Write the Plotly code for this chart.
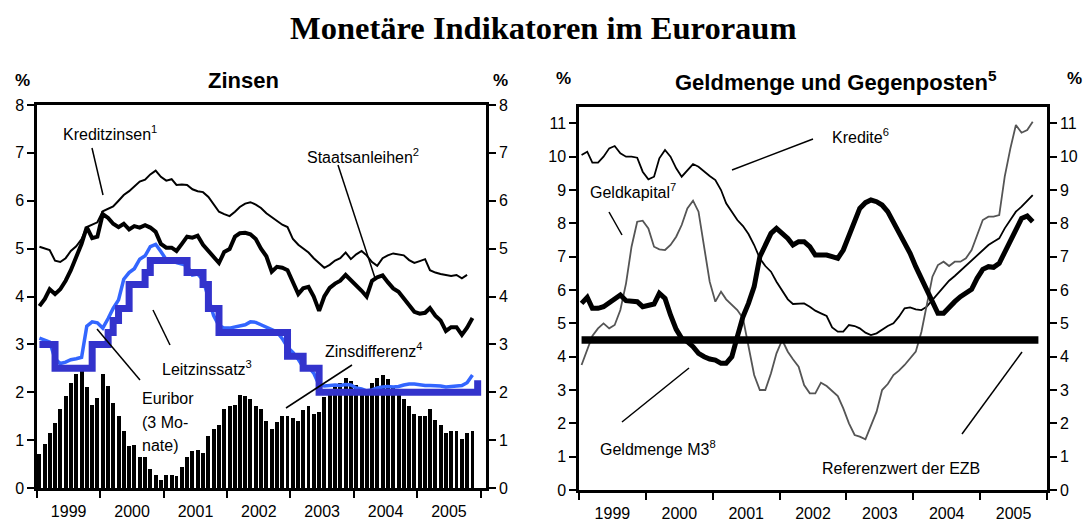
import pandas as pd
import plotly.graph_objects as go

W, H = 1085, 525

# ---------------- Data (monthly, from January 1999) ----------------
# Left panel "Zinsen" (%)
kreditzinsen = [5.04, 5.00, 4.97, 4.75, 4.72, 4.80, 4.95, 5.05, 5.20, 5.45, 5.50, 5.55,
                5.78, 5.84, 5.88, 6.00, 6.12, 6.20, 6.30, 6.40, 6.44, 6.55, 6.63, 6.50,
                6.42, 6.45, 6.33, 6.34, 6.33, 6.24, 6.20, 6.18, 6.08, 5.92, 5.77, 5.72,
                5.68, 5.77, 5.87, 5.94, 5.97, 5.92, 5.85, 5.74, 5.66, 5.58, 5.50, 5.45,
                5.20, 5.08, 5.00, 4.92, 4.80, 4.70, 4.60, 4.66, 4.75, 4.80, 4.92, 4.78,
                4.88, 4.95, 4.86, 4.72, 4.64, 4.80, 4.86, 4.90, 4.88, 4.86, 4.76, 4.70,
                4.74, 4.78, 4.55, 4.50, 4.47, 4.45, 4.43, 4.45, 4.38, 4.45]

staatsanleihen = [3.80, 3.95, 4.15, 4.05, 4.15, 4.33, 4.55, 4.80, 5.10, 5.45, 5.22, 5.25,
                  5.72, 5.64, 5.52, 5.45, 5.52, 5.40, 5.47, 5.44, 5.49, 5.44, 5.35, 5.10,
                  5.02, 5.02, 4.95, 5.10, 5.25, 5.23, 5.27, 5.08, 4.95, 4.82, 4.70, 4.93,
                  4.99, 5.25, 5.32, 5.33, 5.30, 5.20, 5.00, 4.84, 4.52, 4.62, 4.60, 4.55,
                  4.30, 4.05, 4.17, 4.20, 4.00, 3.70, 4.00, 4.18, 4.27, 4.33, 4.45, 4.35,
                  4.25, 4.12, 4.00, 4.33, 4.40, 4.44, 4.30, 4.17, 4.10, 3.95, 3.80, 3.68,
                  3.64, 3.66, 3.76, 3.60, 3.50, 3.28, 3.36, 3.36, 3.20, 3.35, 3.55]

euribor = [3.13, 3.09, 3.05, 2.70, 2.60, 2.63, 2.68, 2.70, 2.73, 3.38, 3.47, 3.45,
           3.34, 3.54, 3.75, 3.93, 4.36, 4.50, 4.58, 4.78, 4.85, 5.04, 5.09, 4.94,
           4.77, 4.76, 4.71, 4.68, 4.64, 4.45, 4.47, 4.35, 3.98, 3.60, 3.39, 3.34,
           3.34, 3.36, 3.39, 3.41, 3.47, 3.46, 3.41, 3.35, 3.31, 3.26, 3.12, 2.94,
           2.83, 2.69, 2.53, 2.53, 2.40, 2.15, 2.13, 2.14, 2.15, 2.14, 2.16, 2.15,
           2.09, 2.07, 2.03, 2.05, 2.09, 2.11, 2.12, 2.11, 2.12, 2.15, 2.17, 2.17,
           2.15, 2.14, 2.14, 2.14, 2.13, 2.11, 2.12, 2.13, 2.14, 2.20, 2.36]

leitzinssatz = [3.00, 3.00, 3.00, 2.50, 2.50, 2.50, 2.50, 2.50, 2.50, 2.50, 3.00, 3.00,
                3.00, 3.25, 3.50, 3.75, 3.75, 4.25, 4.25, 4.25, 4.50, 4.75, 4.75, 4.75,
                4.75, 4.75, 4.75, 4.75, 4.50, 4.50, 4.50, 4.25, 3.75, 3.75, 3.25, 3.25,
                3.25, 3.25, 3.25, 3.25, 3.25, 3.25, 3.25, 3.25, 3.25, 3.25, 3.25, 2.75,
                2.75, 2.75, 2.50, 2.50, 2.50, 2.00, 2.00, 2.00, 2.00, 2.00, 2.00, 2.00,
                2.00, 2.00, 2.00, 2.00, 2.00, 2.00, 2.00, 2.00, 2.00, 2.00, 2.00, 2.00,
                2.00, 2.00, 2.00, 2.00, 2.00, 2.00, 2.00, 2.00, 2.00, 2.00, 2.00, 2.25]

zinsdifferenz = [0.72, 0.91, 1.15, 1.36, 1.64, 1.92, 2.20, 2.38, 2.44, 2.12, 1.73, 1.88,
                 2.39, 2.14, 1.77, 1.51, 1.20, 0.87, 0.89, 0.64, 0.64, 0.40, 0.28, 0.16,
                 0.27, 0.28, 0.25, 0.43, 0.64, 0.78, 0.80, 0.73, 1.08, 1.24, 1.31, 1.64,
                 1.71, 1.73, 1.95, 1.92, 1.86, 1.72, 1.64, 1.40, 1.24, 1.38, 1.50, 1.50,
                 1.47, 1.40, 1.62, 1.71, 1.54, 1.59, 1.90, 2.05, 2.12, 2.20, 2.30, 2.23,
                 2.16, 2.08, 2.00, 2.20, 2.30, 2.35, 2.27, 2.10, 2.00, 1.85, 1.72, 1.54,
                 1.50, 1.50, 1.64, 1.43, 1.31, 1.15, 1.20, 1.20, 1.03, 1.14, 1.19]

# Right panel "Geldmenge und Gegenposten" (% change yoy)
kredite = [10.05, 10.15, 9.82, 9.82, 10.00, 10.25, 10.32, 10.10, 10.00, 10.00, 9.97, 9.55,
           9.32, 9.40, 9.95, 10.20, 10.00, 9.65, 9.40, 9.58, 9.78, 9.70, 9.55, 9.42,
           9.30, 9.00, 8.60, 8.35, 8.10, 7.92, 7.68, 7.35, 6.95, 6.72, 6.55, 6.25,
           6.00, 5.72, 5.58, 5.60, 5.60, 5.50, 5.38, 5.30, 5.22, 4.88, 4.75, 4.75,
           4.95, 4.92, 4.85, 4.72, 4.65, 4.70, 4.82, 4.92, 5.00, 5.20, 5.45, 5.48,
           5.42, 5.40, 5.50, 5.70, 5.92, 6.12, 6.28, 6.42, 6.58, 6.72, 6.88, 7.05,
           7.22, 7.35, 7.45, 7.55, 7.85, 8.10, 8.35, 8.50, 8.68, 8.85]

geldkapital = [3.75, 4.20, 4.62, 4.85, 5.00, 4.85, 4.95, 5.40, 6.20, 7.30, 8.05, 8.08,
               7.85, 7.30, 7.22, 7.20, 7.35, 7.60, 7.95, 8.45, 8.68, 8.35, 7.30, 6.25,
               5.65, 5.95, 5.72, 5.55, 5.40, 5.15, 4.30, 3.45, 3.00, 3.00, 3.50, 4.10,
               4.50, 4.15, 3.92, 3.70, 3.15, 2.90, 2.90, 3.22, 3.12, 2.98, 2.82, 2.45,
               2.00, 1.65, 1.60, 1.52, 1.95, 2.35, 3.00, 3.18, 3.45, 3.58, 3.75, 3.95,
               4.15, 4.75, 5.60, 6.40, 6.75, 6.85, 6.72, 6.85, 6.85, 6.95, 7.20, 7.65,
               8.10, 8.20, 8.20, 8.25, 9.40, 10.25, 10.95, 10.72, 10.80, 11.05]

geldmenge_m3 = [5.60, 5.78, 5.45, 5.45, 5.50, 5.62, 5.75, 5.85, 5.68, 5.66, 5.65, 5.50,
                5.55, 5.58, 5.90, 5.75, 5.25, 4.82, 4.55, 4.45, 4.30, 4.10, 4.00, 3.93,
                3.90, 3.80, 3.80, 4.00, 4.60, 5.20, 5.60, 6.10, 7.00, 7.35, 7.70, 7.85,
                7.72, 7.55, 7.35, 7.45, 7.45, 7.30, 7.05, 7.05, 7.05, 7.00, 6.95, 7.20,
                7.60, 8.05, 8.45, 8.62, 8.70, 8.65, 8.55, 8.35, 8.05, 7.75, 7.40, 7.10,
                6.70, 6.35, 5.95, 5.60, 5.30, 5.30, 5.50, 5.65, 5.80, 5.90, 6.02, 6.35,
                6.62, 6.70, 6.68, 6.80, 7.12, 7.48, 7.80, 8.15, 8.22, 8.05]

referenzwert = [4.5] * 83

# Month positions (middle of each month)
monate = pd.date_range("1999-01-01", periods=84, freq="MS") + pd.Timedelta(days=14)


def m(series):
    return monate[:len(series)]


BLACK = "black"
FONT = "Liberation Sans"

fig = go.Figure()

# ---- Left panel ----
fig.add_trace(go.Bar(x=m(zinsdifferenz), y=zinsdifferenz, marker=dict(color=BLACK, line=dict(width=0)),
                     width=1.95e9, xaxis="x", yaxis="y", showlegend=False))
fig.add_trace(go.Scatter(x=m(kreditzinsen), y=kreditzinsen, mode="lines",
                         line=dict(color=BLACK, width=2), xaxis="x", yaxis="y", showlegend=False))
fig.add_trace(go.Scatter(x=m(staatsanleihen), y=staatsanleihen, mode="lines",
                         line=dict(color=BLACK, width=4), xaxis="x", yaxis="y", showlegend=False))
fig.add_trace(go.Scatter(x=m(euribor), y=euribor, mode="lines",
                         line=dict(color="#3366ff", width=3.5), xaxis="x", yaxis="y", showlegend=False))
fig.add_trace(go.Scatter(x=m(leitzinssatz), y=leitzinssatz, mode="lines",
                         line=dict(color="#3333cc", width=7, shape="hv"), xaxis="x", yaxis="y3",
                         showlegend=False))

# ---- Right panel ----
fig.add_trace(go.Scatter(x=m(kredite), y=kredite, mode="lines",
                         line=dict(color=BLACK, width=1.8), xaxis="x2", yaxis="y2", showlegend=False))
fig.add_trace(go.Scatter(x=m(geldkapital), y=geldkapital, mode="lines",
                         line=dict(color="#555555", width=1.8), xaxis="x2", yaxis="y2", showlegend=False))
fig.add_trace(go.Scatter(x=m(referenzwert), y=referenzwert, mode="lines",
                         line=dict(color=BLACK, width=7.5), xaxis="x2", yaxis="y4", showlegend=False))
fig.add_trace(go.Scatter(x=m(geldmenge_m3), y=geldmenge_m3, mode="lines",
                         line=dict(color=BLACK, width=5), xaxis="x2", yaxis="y4", showlegend=False))


def X(px):
    return px / W


def Y(py):
    return 1 - py / H


tickfont = dict(family=FONT, size=16, color=BLACK)

xcommon = dict(type="date", dtick="M12", tick0="1999-01-01", tickformat="%Y",
               ticklabelmode="period", ticks="outside", ticklen=7, tickwidth=2,
               tickcolor=BLACK, showline=True, linewidth=2.5, linecolor=BLACK,
               mirror=True, showgrid=False, zeroline=False, tickfont=tickfont,
               automargin=False)
ycommon = dict(ticks="outside", ticklen=7, tickwidth=2, tickcolor=BLACK, showline=True,
               linewidth=2.5, linecolor=BLACK, showgrid=False, zeroline=False,
               tickfont=tickfont, automargin=False)

fig.update_layout(
    width=W, height=H,
    margin=dict(l=0, r=0, t=0, b=0),
    paper_bgcolor="white", plot_bgcolor="white",
    bargap=0,
    xaxis=dict(domain=[X(37), X(486)], range=["1999-01-01", "2006-02-01"], anchor="y", **xcommon),
    yaxis=dict(domain=[Y(488), Y(105)], range=[0, 8], dtick=1, anchor="x", side="left", **ycommon),
    yaxis3=dict(range=[0, 8], dtick=1, anchor="x", overlaying="y", side="right", **ycommon),
    xaxis2=dict(domain=[X(579), X(1047)], range=["1999-01-01", "2006-01-01"], anchor="y2", **xcommon),
    yaxis2=dict(domain=[Y(490), Y(106.7)], range=[0, 11.5], tickvals=list(range(12)), anchor="x2",
                side="left", **ycommon),
    yaxis4=dict(range=[0, 11.5], tickvals=list(range(12)), anchor="x2", overlaying="y2", side="right",
                **ycommon),
)

annotations = []


def text(px, py, s, size=16, bold=False, xanchor="left", family=FONT):
    annotations.append(dict(x=X(px), y=Y(py), xref="paper", yref="paper", text=s, showarrow=False,
                            xanchor=xanchor, yanchor="middle",
                            font=dict(family=family, size=size, color=BLACK)))


text(543, 28, "<b>Monetäre Indikatoren im Euroraum</b>", size=32.5, xanchor="center",
     family="Liberation Serif")
text(243, 80, "<b>Zinsen</b>", size=22, xanchor="center")
text(836, 81, "<b>Geldmenge und Gegenposten<sup>5</sup></b>", size=22, xanchor="center")
text(22, 80, "<b>%</b>", size=17, xanchor="center")
text(500, 80, "<b>%</b>", size=17, xanchor="center")
text(563, 78, "<b>%</b>", size=17, xanchor="center")
text(1074, 79, "<b>%</b>", size=17, xanchor="center")

text(61, 133, "Kreditzinsen<sup>1</sup>")
text(305, 156, "Staatsanleihen<sup>2</sup>")
text(160, 368, "Leitzinssatz<sup>3</sup>")
text(140, 398, "Euribor")
text(140, 422, "(3 Mo-")
text(140, 445, "nate)")
text(323, 350, "Zinsdifferenz<sup>4</sup>")
text(830, 136, "Kredite<sup>6</sup>")
text(588, 191, "Geldkapital<sup>7</sup>")
text(598, 448, "Geldmenge M3<sup>8</sup>")
text(820, 468, "Referenzwert der EZB")

fig.update_layout(annotations=annotations)

connectors = [
    ((92, 148), (103, 195)),
    ((338, 165), (375, 278)),
    ((153, 310), (170, 345)),
    ((97, 329), (140, 380)),
    ((352, 365), (286, 408)),
    ((732, 170), (813, 139)),
    ((609, 212), (622, 235)),
    ((622, 422), (689, 368)),
    ((962, 434), (1022, 352)),
]
fig.update_layout(shapes=[dict(type="line", xref="paper", yref="paper",
                               x0=X(a[0]), y0=Y(a[1]), x1=X(b[0]), y1=Y(b[1]),
                               line=dict(color=BLACK, width=1.5)) for a, b in connectors])

fig.write_html("out.html", config={"displayModeBar": False},
               post_script="document.body.style.margin='0';document.body.style.overflow='hidden';")
